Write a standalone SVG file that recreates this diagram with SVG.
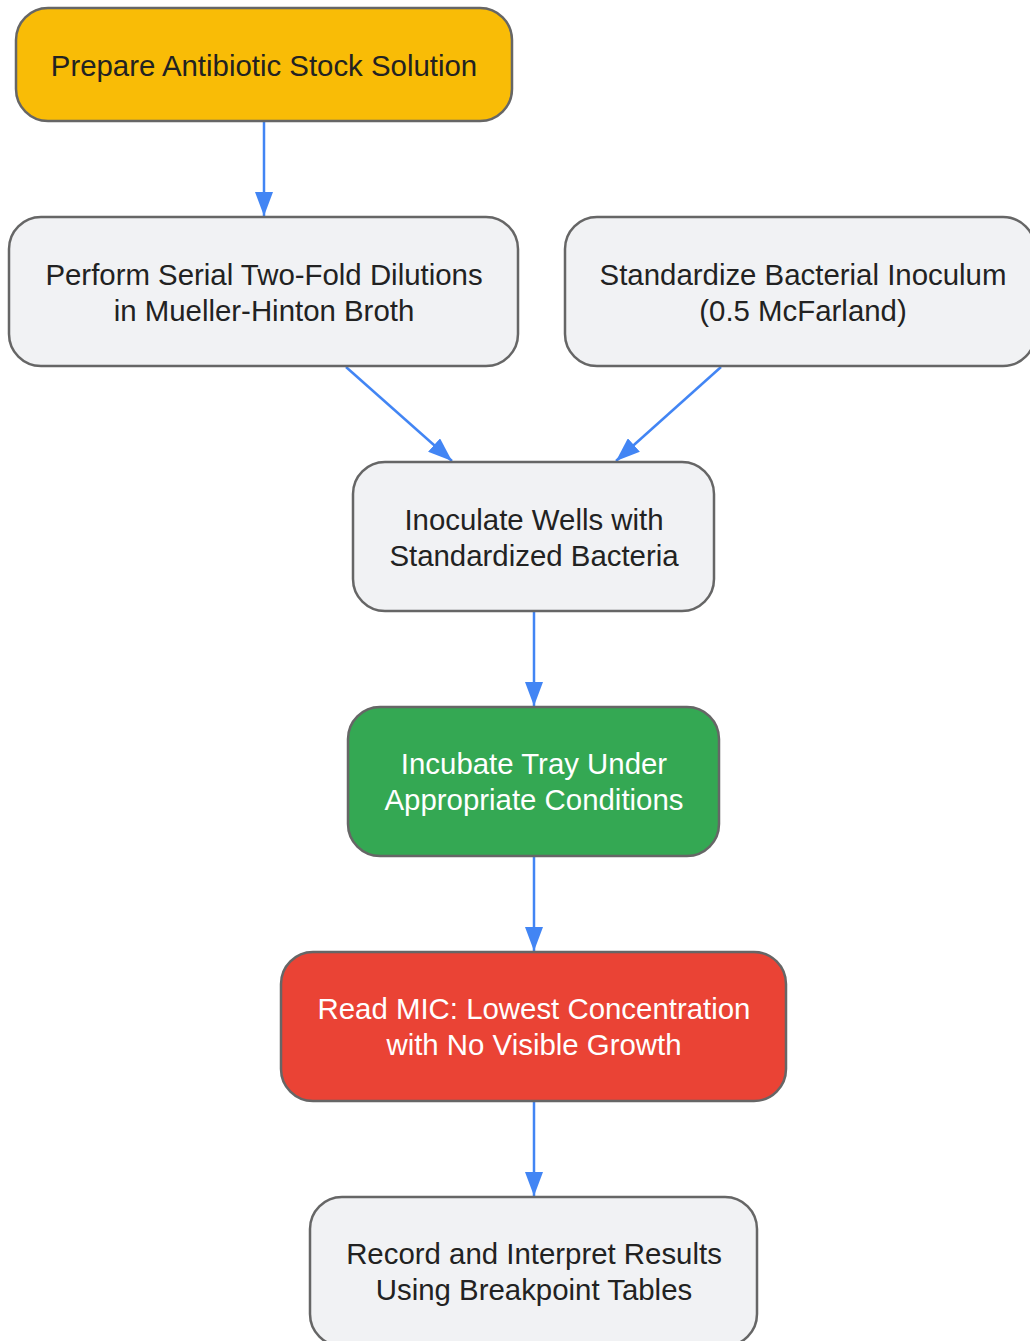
<svg xmlns="http://www.w3.org/2000/svg" width="1030" height="1341" viewBox="0 0 1030 1341">
<style>
.n rect{stroke:#666;stroke-width:2.5}
.g{fill:#F1F2F4}
.t{font-family:"Liberation Sans",Arial,sans-serif;font-size:29.4px;text-anchor:middle;dominant-baseline:central;fill:#222}
.w{fill:#fff}
.e{stroke:#4285F4;stroke-width:2.5;fill:none}
</style>
<defs>
<marker id="ah" viewBox="0 0 24 18" refX="24" refY="9" markerWidth="24" markerHeight="18" markerUnits="userSpaceOnUse" orient="auto">
<path d="M0,0 L24,9 L0,18 z" fill="#4285F4"/>
</marker>
</defs>
<g id="edges">
<line class="e" x1="264" y1="121" x2="264" y2="216" marker-end="url(#ah)"/>
<line class="e" x1="346" y1="367" x2="452" y2="461" marker-end="url(#ah)"/>
<line class="e" x1="721" y1="367" x2="616" y2="461" marker-end="url(#ah)"/>
<line class="e" x1="534" y1="611" x2="534" y2="706" marker-end="url(#ah)"/>
<line class="e" x1="534" y1="856" x2="534" y2="951" marker-end="url(#ah)"/>
<line class="e" x1="534" y1="1101" x2="534" y2="1196" marker-end="url(#ah)"/>
</g>
<g id="n1" class="n"><rect x="16" y="8" width="496" height="113" rx="32" fill="#F9BC06"/><text class="t" x="264" y="65">Prepare Antibiotic Stock Solution</text></g>
<g id="n2" class="n"><rect class="g" x="9" y="217" width="509" height="149" rx="32"/><text class="t" x="264" y="274">Perform Serial Two-Fold Dilutions</text><text class="t" x="264" y="310">in Mueller-Hinton Broth</text></g>
<g id="n3" class="n"><rect class="g" x="565" y="217" width="470" height="149" rx="32"/><text class="t" x="803" y="274">Standardize Bacterial Inoculum</text><text class="t" x="803" y="310">(0.5 McFarland)</text></g>
<g id="n4" class="n"><rect class="g" x="353" y="462" width="361" height="149" rx="32"/><text class="t" x="534" y="519">Inoculate Wells with</text><text class="t" x="534" y="555">Standardized Bacteria</text></g>
<g id="n5" class="n"><rect x="348" y="707" width="371" height="149" rx="32" fill="#34A853"/><text class="t w" x="534" y="763">Incubate Tray Under</text><text class="t w" x="534" y="799">Appropriate Conditions</text></g>
<g id="n6" class="n"><rect x="281" y="952" width="505" height="149" rx="32" fill="#EA4335"/><text class="t w" x="534" y="1008">Read MIC: Lowest Concentration</text><text class="t w" x="534" y="1044">with No Visible Growth</text></g>
<g id="n7" class="n"><rect class="g" x="310" y="1197" width="447" height="149" rx="32"/><text class="t" x="534" y="1253">Record and Interpret Results</text><text class="t" x="534" y="1289">Using Breakpoint Tables</text></g>
</svg>
